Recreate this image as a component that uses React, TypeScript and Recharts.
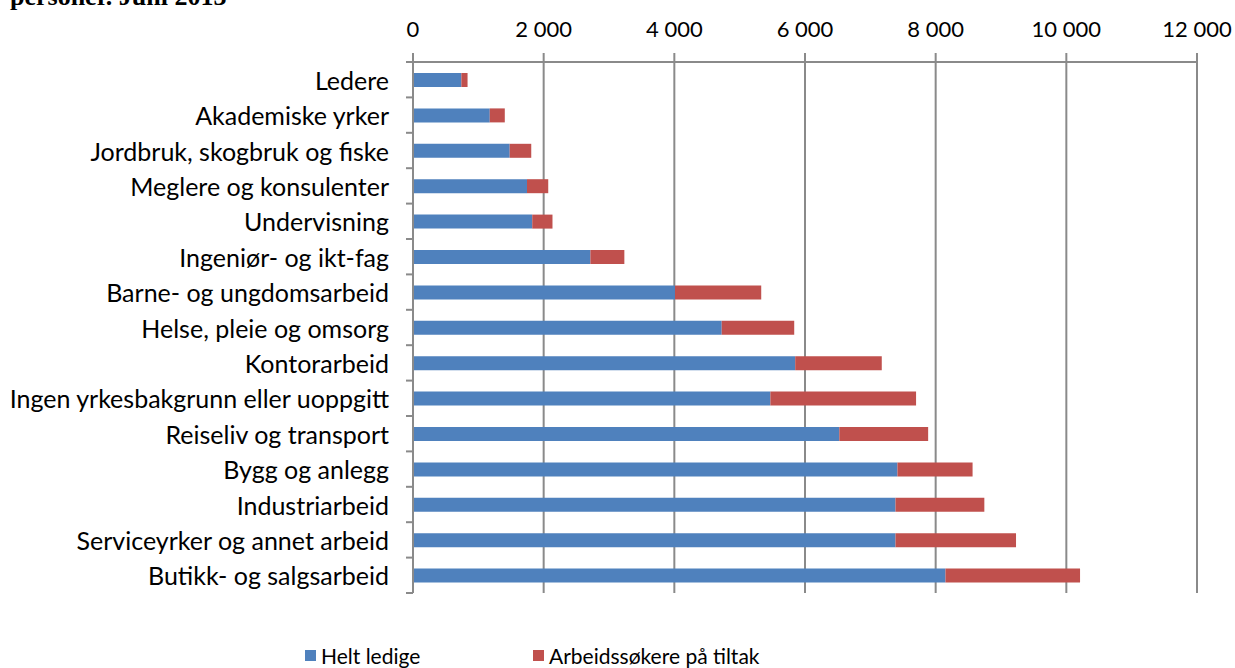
import { Bar, BarChart, CartesianGrid, Legend, XAxis, YAxis } from "recharts";

const categories = [
  "Ledere",
  "Akademiske yrker",
  "Jordbruk, skogbruk og fiske",
  "Meglere og konsulenter",
  "Undervisning",
  "Ingeniør- og ikt-fag",
  "Barne- og ungdomsarbeid",
  "Helse, pleie og omsorg",
  "Kontorarbeid",
  "Ingen yrkesbakgrunn eller uoppgitt",
  "Reiseliv og transport",
  "Bygg og anlegg",
  "Industriarbeid",
  "Serviceyrker og annet arbeid",
  "Butikk- og salgsarbeid",
];
const heltLedige = [740, 1175, 1480, 1745, 1825, 2715, 4010, 4725, 5850, 5470, 6525, 7415, 7385, 7385, 8150];
const paTiltak = [95, 230, 330, 325, 310, 520, 1320, 1110, 1325, 2230, 1360, 1150, 1360, 1845, 2060];
const xTicks = [0, 2000, 4000, 6000, 8000, 10000, 12000];
const seriesNames = ["Helt ledige", "Arbeidssøkere på tiltak"];

const BLUE = "#4F81BD";
const RED = "#C0504D";
const GRID = "#8a8a8a";
const FONT = "Lato, 'Noto Sans', sans-serif";

const data = categories.map((name, i) => ({
  name,
  helt: heltLedige[i],
  tiltak: paTiltak[i],
}));

const fmt = (v: number) => String(v).replace(/\B(?=(\d{3})+(?!\d))/g, " ");

function CategoryTick(props: any) {
  const { x, y, payload, index } = props;
  const half = payload?.offset ?? 0;
  const axisX = x + 24;
  return (
    <g>
      <text
        x={x}
        y={y}
        textAnchor="end"
        dominantBaseline="central"
        fontFamily={FONT}
        fontSize={25}
        fill="#000"
      >
        {payload.value}
      </text>
      <line x1={axisX - 7} x2={axisX} y1={y - half} y2={y - half} stroke={GRID} strokeWidth={2} />
      {index === categories.length - 1 && (
        <line x1={axisX - 7} x2={axisX} y1={y + half} y2={y + half} stroke={GRID} strokeWidth={2} />
      )}
    </g>
  );
}

function LegendContent() {
  const colors = [BLUE, RED];
  const lefts = [305, 533];
  return (
    <div style={{ position: "relative", height: 24, fontFamily: FONT, fontSize: 21 }}>
      {seriesNames.map((n, i) => (
        <div
          key={n}
          style={{ position: "absolute", left: lefts[i], top: 0, display: "flex", alignItems: "center", whiteSpace: "nowrap" }}
        >
          <span style={{ width: 11, height: 11, background: colors[i], marginRight: 5, display: "inline-block" }} />
          <span>{n}</span>
        </div>
      ))}
    </div>
  );
}

function App() {
  return (
    <div style={{ position: "absolute", left: 0, top: 0, width: 1235, height: 668 }}>
      <div
        style={{
          position: "absolute",
          left: 10,
          top: -16,
          fontFamily: "'Liberation Serif', serif",
          fontWeight: "bold",
          fontSize: 26,
          lineHeight: "26px",
          whiteSpace: "nowrap",
        }}
      >
        personer. Juni 2013
      </div>
      <BarChart
        width={1235}
        height={668}
        data={data}
        layout="vertical"
        margin={{ top: 12, right: 38, bottom: 75, left: 0 }}
        barSize={14}
      >
        <CartesianGrid horizontal={false} stroke={GRID} strokeWidth={2} />
        <XAxis
          type="number"
          orientation="top"
          domain={[0, 12000]}
          ticks={xTicks}
          tickFormatter={fmt}
          height={50}
          tickSize={9}
          tickMargin={16}
          axisLine={{ stroke: GRID, strokeWidth: 2 }}
          tickLine={{ stroke: GRID, strokeWidth: 2 }}
          tick={{ fill: "#000", fontSize: 22, fontFamily: FONT }}
        />
        <YAxis
          type="category"
          dataKey="name"
          width={413}
          tickSize={7}
          tickMargin={17}
          tickLine={false}
          axisLine={{ stroke: GRID, strokeWidth: 2 }}
          tick={<CategoryTick />}
          interval={0}
        />
        <Legend
          verticalAlign="middle"
          align="center"
          layout="horizontal"
          wrapperStyle={{ top: 643, left: 0, width: 1235, height: 24 }}
          content={<LegendContent />}
        />
        <Bar dataKey="helt" name={seriesNames[0]} stackId="a" fill={BLUE} isAnimationActive={false} />
        <Bar dataKey="tiltak" name={seriesNames[1]} stackId="a" fill={RED} isAnimationActive={false} />
      </BarChart>
    </div>
  );
}

export default App;
